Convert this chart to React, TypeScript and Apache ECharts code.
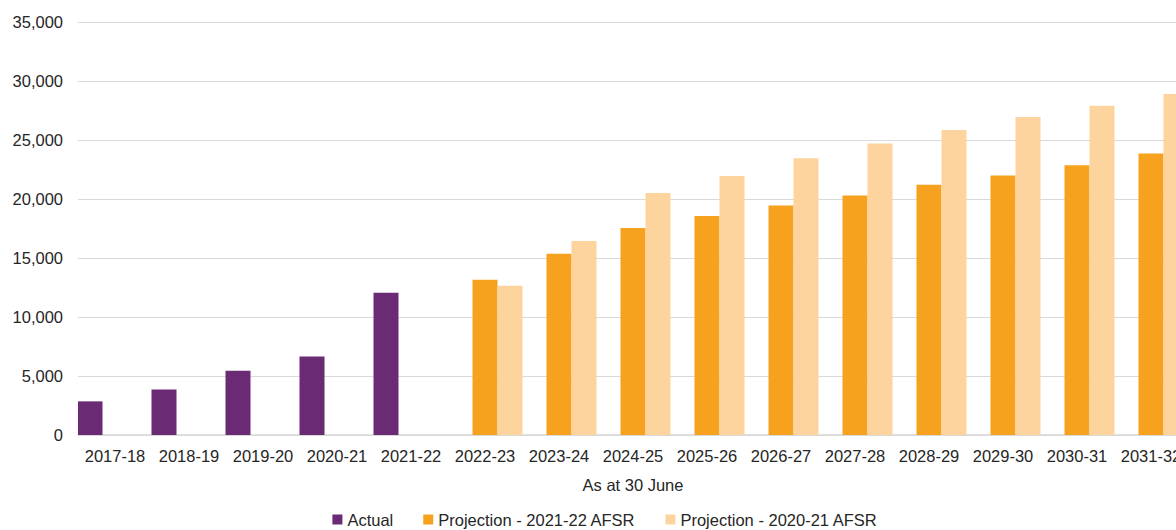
import React, { useEffect, useRef } from "react";
import * as echarts from "echarts";

const categories = [
  "2017-18", "2018-19", "2019-20", "2020-21", "2021-22",
  "2022-23", "2023-24", "2024-25", "2025-26", "2026-27",
  "2027-28", "2028-29", "2029-30", "2030-31", "2031-32",
];

const actual = [2850, 3850, 5450, 6650, 12050, null, null, null, null, null, null, null, null, null, null];
const projection2122 = [null, null, null, null, null, 13150, 15350, 17550, 18550, 19450, 20300, 21200, 22000, 22850, 23850];
const projection2021 = [null, null, null, null, null, 12650, 16450, 20500, 21950, 23450, 24700, 25850, 26950, 27900, 28900];

const seriesNames = ["Actual", "Projection - 2021-22 AFSR", "Projection - 2020-21 AFSR"];
const seriesColors = ["#6b2a74", "#f6a21e", "#fdd49e"];

const yTicks = { min: 0, max: 35000, interval: 5000 };

export default function App() {
  const ref = useRef<HTMLDivElement>(null);

  useEffect(() => {
    if (!ref.current) return;
    const chart = echarts.init(ref.current, null, { renderer: "svg" });
    const dataSets = [actual, projection2122, projection2021];
    chart.setOption({
      animation: false,
      textStyle: { fontFamily: "Liberation Sans, Arial, sans-serif" },
      grid: { left: 78, right: 22, top: 22, bottom: 95, containLabel: false },
      legend: {
        data: seriesNames,
        top: 506,
        left: "center",
        itemWidth: 10,
        itemHeight: 10,
        itemGap: 30,
        icon: "rect",
        textStyle: { fontSize: 16.5, color: "#262626", fontFamily: "Liberation Sans, Arial, sans-serif" },
      },
      xAxis: {
        type: "category",
        data: categories,
        name: "As at 30 June",
        nameLocation: "middle",
        nameGap: 41,
        nameTextStyle: { fontSize: 16.5, color: "#262626", fontFamily: "Liberation Sans, Arial, sans-serif" },
        axisLine: { show: true, lineStyle: { color: "#d9d9d9", width: 1.5 } },
        axisTick: { show: false },
        axisLabel: { fontSize: 16.5, color: "#262626", margin: 12, interval: 0 },
      },
      yAxis: {
        type: "value",
        min: yTicks.min,
        max: yTicks.max,
        interval: yTicks.interval,
        axisLine: { show: false },
        axisTick: { show: false },
        axisLabel: {
          fontSize: 16.5,
          color: "#262626",
          margin: 15,
          formatter: (v: number) => v.toLocaleString("en-US"),
        },
        splitLine: { lineStyle: { color: "#d9d9d9", width: 1.2 } },
      },
      series: seriesNames.map((name, i) => ({
        name,
        type: "bar",
        data: dataSets[i],
        barWidth: 25,
        barGap: "0%",
        itemStyle: { color: seriesColors[i] },
      })),
    });
    return () => chart.dispose();
  }, []);

  return (
    <div style={{ position: "absolute", left: 0, top: 0, width: 1176, height: 530, overflow: "hidden", background: "#fff" }}>
      <div ref={ref} style={{ width: 1210, height: 530 }} />
    </div>
  );
}
